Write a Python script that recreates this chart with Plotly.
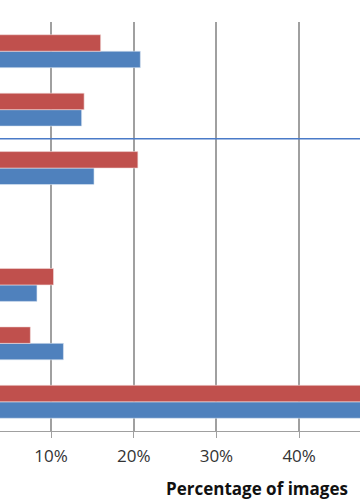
import plotly.graph_objects as go

# Categories listed bottom -> top (labels are cropped out in the reference)
categories = ["Cat 1", "Cat 2", "Cat 3", "Cat 4", "Cat 5", "Cat 6", "Cat 7"]
blue_values = [0.55, 0.115, 0.083, None, 0.152, 0.137, 0.208]
red_values = [0.53, 0.075, 0.103, None, 0.205, 0.140, 0.160]
tick_vals = [0.0, 0.1, 0.2, 0.3, 0.4, 0.5]
tick_text = ["0%", "10%", "20%", "30%", "40%", "50%"]

BLUE = "#4f81bd"
RED = "#c0504d"

fig = go.Figure()
fig.add_trace(go.Bar(y=categories, x=blue_values, orientation="h", name="Series 1",
                     marker=dict(color=BLUE, line=dict(color="#dce6f2", width=0.6))))
fig.add_trace(go.Bar(y=categories, x=red_values, orientation="h", name="Series 2",
                     marker=dict(color=RED, line=dict(color="#f2dcdb", width=0.6))))

fig.update_layout(
    width=360, height=500,
    margin=dict(l=0, r=0, t=22, b=69),
    barmode="group", bargap=0.436, bargroupgap=0,
    plot_bgcolor="white", paper_bgcolor="white",
    showlegend=False,
    font=dict(family="Open Sans", color="#222222"),
)
fig.update_xaxes(
    range=[0.0383, 0.4736],
    tickvals=tick_vals, ticktext=tick_text,
    showgrid=True, gridcolor="#a0a0a0", gridwidth=1.5,
    zeroline=False,
    showline=True, linecolor="#a0a0a0", linewidth=1,
    ticks="outside", ticklen=6, tickcolor="#a0a0a0",
    ticklabelstandoff=4,
    tickfont=dict(size=17, family="Open Sans", color="#333333"),
)
fig.update_yaxes(
    categoryorder="array", categoryarray=categories,
    showticklabels=False, showgrid=False, zeroline=False, showline=False,
)
# separator line between categories
fig.add_shape(type="line", xref="paper", x0=0, x1=1, yref="y", y0=4.5, y1=4.5,
              line=dict(color="#4a7bc8", width=1.5))
fig.add_annotation(text="<b>Percentage of images</b>", xref="paper", yref="paper",
                   x=0.714, y=0, yshift=-57, showarrow=False, xanchor="center", yanchor="middle",
                   font=dict(size=17, family="Open Sans", color="#111111"))

fig.write_html("out.html")
